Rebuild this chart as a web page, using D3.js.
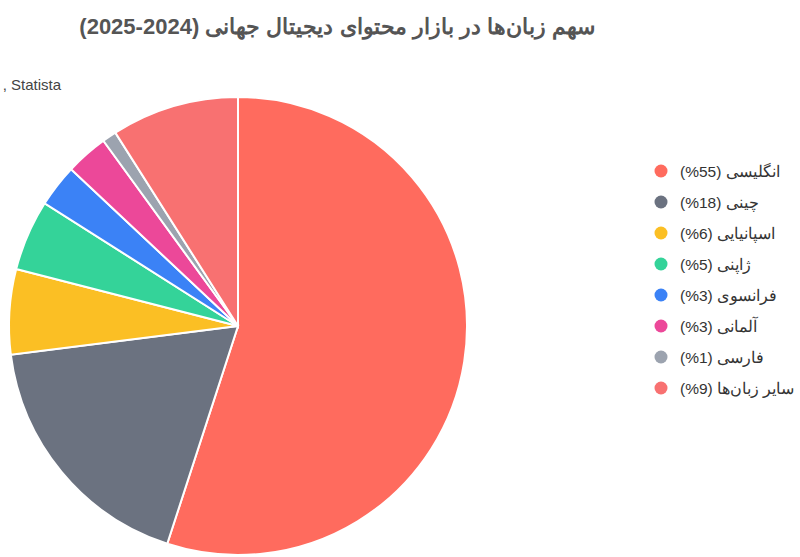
<!DOCTYPE html>
<html><head><meta charset="utf-8">
<script src="https://cdn.jsdelivr.net/npm/d3@7"></script>
<style>body{margin:0;background:#fff;}svg{display:block;font-family:"Liberation Sans",Arial,sans-serif;}</style>
</head><body>
<svg id="c" width="800" height="557"></svg>
<script>
const categories = ["انگلیسی","چینی","اسپانیایی","ژاپنی","فرانسوی","آلمانی","فارسی","سایر زبان‌ها"];
const values = [55,18,6,5,3,3,1,9];
const colors = ["#FF6B5E","#6B7280","#FBBF24","#34D399","#3B82F6","#EC4899","#9CA3AF","#F87171"];
const title = "سهم زبان‌ها در بازار محتوای دیجیتال جهانی (2024-2025)";
const subtitle = ", Statista";

const svg = d3.select("#c");
const data = categories.map((c,i)=>({name:c,value:values[i],color:colors[i]}));

svg.append("text").attr("x",595).attr("y",34).attr("direction","rtl").attr("text-anchor","start")
  .attr("font-size",22).attr("font-weight","bold").attr("fill","#555").text(title);

svg.append("text").attr("x",61).attr("y",90).attr("text-anchor","end").attr("direction","ltr")
  .attr("font-size",15).attr("fill","#444").text(subtitle);

const pie = d3.pie().value(d=>d.value).sort(null);
const arc = d3.arc().innerRadius(0).outerRadius(229);
const g = svg.append("g").attr("transform","translate(238,326)");
g.selectAll("path").data(pie(data)).join("path")
  .attr("d",arc).attr("fill",d=>d.data.color).attr("stroke","#fff").attr("stroke-width",2);

const y = d3.scalePoint().domain(categories).range([171,388]);
const lg = svg.append("g");
const items = lg.selectAll("g").data(data).join("g").attr("transform",d=>`translate(0,${y(d.name)})`);
items.append("circle").attr("cx",661).attr("cy",0).attr("r",6.5).attr("fill",d=>d.color);
items.append("text").attr("x",680).attr("y",5.5).attr("direction","rtl").attr("text-anchor","end")
  .attr("font-size",15.5).attr("fill","#333").text(d=>`${d.name} (${d.value}%)`);
</script>
</body></html>
